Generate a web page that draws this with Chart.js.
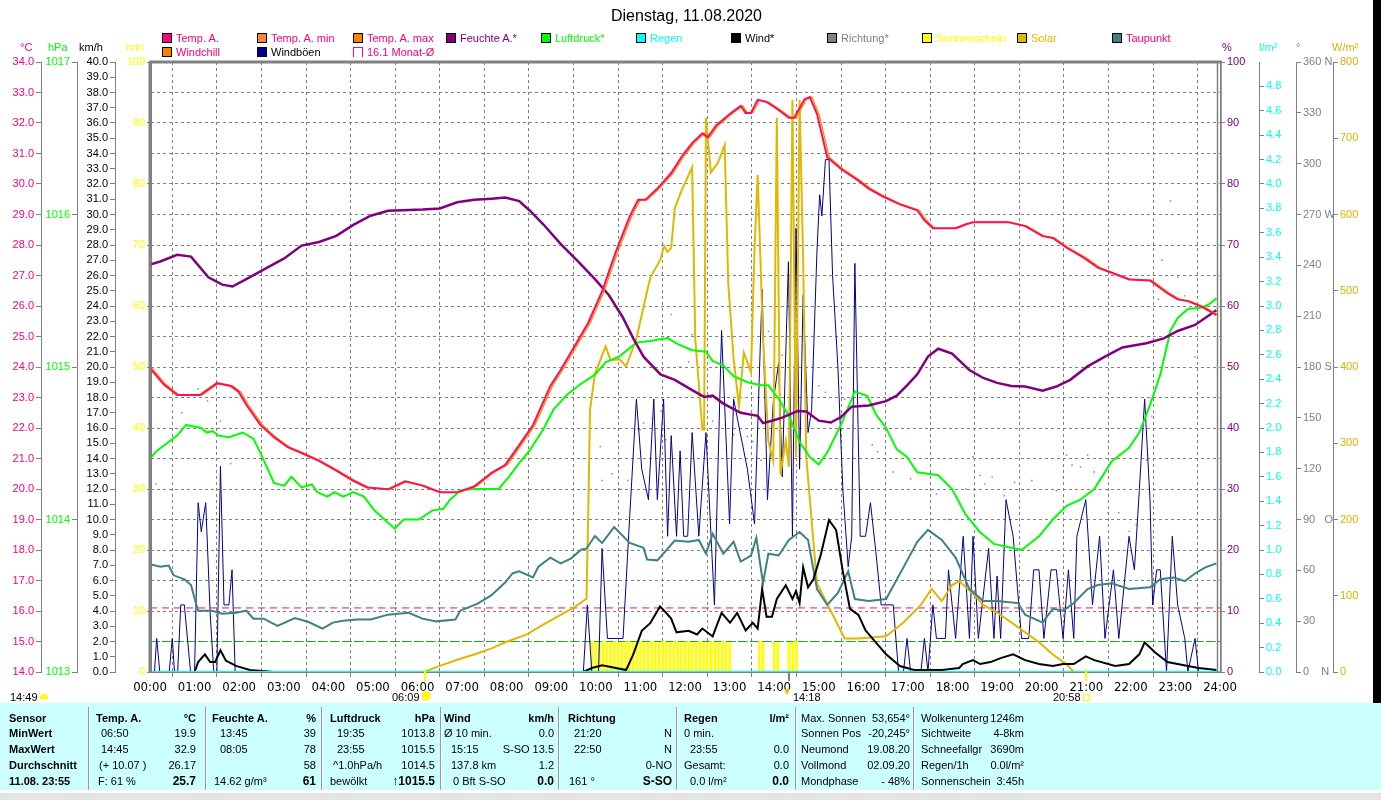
<!DOCTYPE html>
<html>
<head>
<meta charset="utf-8">
<title>Dienstag, 11.08.2020</title>
<script src="https://cdn.jsdelivr.net/npm/chart.js@4.4.1/dist/chart.umd.min.js"></script>
<style>
  html, body { margin: 0; padding: 0; background: #fff; }
  body { position: relative; width: 1381px; height: 800px; overflow: hidden; font-family: "Liberation Sans", Arial, sans-serif; font-size: 11px; }
  #chart { position: absolute; left: 0; top: 0; }
  .t { position: absolute; white-space: nowrap; line-height: 13px; }
  .sq { position: absolute; width: 8px; height: 8px; border: 1px solid #000; }
  #table { position: absolute; left: 0; top: 703px; width: 1381px; height: 87px; background: #CCFFFF; }
  .sep { position: absolute; top: 4px; width: 1px; height: 83px; background: #9a9a9a; border-right: 1px solid #fff; }
  #status { position: absolute; left: 0; top: 790px; width: 1381px; height: 10px; background: #e4e4e4; border-top: 3px solid #fff; box-sizing: border-box; }
  #edge { position: absolute; left: 1373px; top: 0; width: 8px; height: 703px; background: #000; }
  .mk { position: absolute; top: 669px; width: 2px; height: 12px; }
</style>
</head>
<body>
<canvas id="chart" width="1381" height="700"></canvas>
<div id="overlay"></div>
<div id="table"></div>
<div id="status"></div>
<div id="edge"></div>
<script>
// ---- data, time in hours ----
const hourLabels = ['00:00', '01:00', '02:00', '03:00', '04:00', '05:00', '06:00', '07:00', '08:00', '09:00', '10:00', '11:00', '12:00',
    '13:00', '14:00', '15:00', '16:00', '17:00', '18:00', '19:00', '20:00', '21:00', '22:00', '23:00', '24:00'];

const tempTimes = [0.00, 0.30, 0.61, 1.12, 1.50, 1.81, 1.99, 2.16, 2.47, 2.78, 3.09, 3.40, 3.79, 4.18, 4.56, 4.87, 5.34, 5.72, 6.11, 6.50,
    6.89, 7.27, 7.66, 7.97, 8.28, 8.59, 8.98, 9.21, 9.52, 9.83, 10.14, 10.45, 10.76, 10.95, 11.11, 11.38, 11.69, 11.95, 12.16, 12.39,
    12.51, 12.70, 13.01, 13.25, 13.36, 13.48, 13.63, 13.83, 14.10, 14.33, 14.45, 14.68, 14.80, 14.96, 15.19, 15.50, 15.89, 16.12, 16.44, 16.82,
    17.21, 17.37, 17.56, 18.07, 18.30, 18.46, 19.24, 19.63, 20.02, 20.25, 20.56, 20.95, 21.26, 21.73, 21.96, 22.43, 22.82, 23.05, 23.28, 23.60, 23.92];
const tempValues = [23.96, 23.44, 23.08, 23.08, 23.47, 23.38, 23.18, 22.76, 22.11, 21.70, 21.37, 21.18, 20.92, 20.60, 20.27, 20.05, 19.99, 20.25, 20.11, 19.89,
    19.89, 20.08, 20.53, 20.79, 21.44, 22.09, 23.38, 23.90, 24.67, 25.45, 26.48, 27.78, 28.94, 29.48, 29.48, 29.85, 30.36, 30.95, 31.34, 31.66,
    31.53, 31.92, 32.30, 32.56, 32.33, 32.33, 32.76, 32.69, 32.43, 32.17, 32.17, 32.78, 32.85, 32.30, 30.88, 30.49, 30.11, 29.85, 29.59, 29.33,
    29.14, 28.81, 28.55, 28.55, 28.68, 28.75, 28.75, 28.62, 28.29, 28.23, 27.91, 27.58, 27.26, 27.00, 26.87, 26.84, 26.42, 26.22, 26.16, 25.97, 25.70];

const humTimes = [0.00, 0.23, 0.61, 0.92, 1.31, 1.62, 1.85, 2.16, 2.63, 3.01, 3.40, 3.79, 4.18, 4.56, 4.95, 5.34, 6.11, 6.50, 6.89, 7.27,
    7.66, 7.97, 8.28, 8.51, 8.82, 9.21, 9.60, 9.98, 10.29, 10.60, 10.84, 11.07, 11.45, 11.77, 12.16, 12.43, 12.62, 12.86, 13.25, 13.63,
    13.75, 13.95, 14.18, 14.53, 14.72, 15.00, 15.27, 15.50, 15.74, 16.12, 16.51, 16.75, 16.98, 17.21, 17.45, 17.68, 17.99, 18.38, 18.69, 19.00,
    19.32, 19.63, 20.02, 20.33, 20.64, 21.03, 21.42, 21.81, 22.35, 22.74, 23.05, 23.44, 23.92];
const humValues = [66.8, 67.3, 68.4, 68.1, 64.7, 63.5, 63.2, 64.4, 66.3, 67.8, 69.9, 70.5, 71.5, 73.3, 74.8, 75.6, 75.8, 76.0, 77.0, 77.4,
    77.6, 77.8, 77.2, 75.7, 73.4, 70.2, 67.3, 64.4, 61.8, 58.2, 54.7, 51.7, 48.8, 47.9, 46.2, 45.1, 45.3, 44.0, 42.5, 42.0,
    40.8, 41.2, 41.7, 42.8, 42.7, 41.2, 40.9, 41.8, 43.5, 43.7, 44.4, 45.3, 47.0, 48.8, 51.7, 53.0, 52.2, 49.5, 48.2, 47.4,
    46.9, 46.8, 46.1, 46.8, 47.9, 50.1, 51.7, 53.2, 53.9, 54.7, 55.9, 56.9, 59.3];

const presTimes = [0.00, 0.15, 0.38, 0.61, 0.81, 1.15, 1.27, 1.40, 1.54, 1.77, 2.08, 2.32, 2.47, 2.78, 3.01, 3.17, 3.40, 3.63, 3.75, 3.98,
    4.14, 4.33, 4.56, 4.80, 5.03, 5.26, 5.49, 5.69, 6.03, 6.34, 6.58, 6.73, 6.96, 7.27, 7.82, 8.05, 8.28, 8.51, 8.82, 9.05,
    9.36, 9.67, 9.98, 10.22, 10.53, 10.91, 11.22, 11.61, 11.84, 12.16, 12.47, 12.62, 12.86, 13.09, 13.40, 13.71, 13.87, 14.10, 14.33, 14.57,
    14.80, 15.00, 15.19, 15.50, 15.81, 16.09, 16.28, 16.51, 16.75, 16.98, 17.21, 17.68, 17.99, 18.30, 18.61, 18.93, 19.24, 19.55, 19.94, 20.25,
    20.56, 20.87, 21.18, 21.57, 21.96, 22.19, 22.43, 22.66, 22.89, 23.05, 23.28, 23.60, 23.75, 23.92];
const presValues = [1014.40, 1014.45, 1014.50, 1014.55, 1014.62, 1014.60, 1014.57, 1014.58, 1014.55, 1014.54, 1014.57, 1014.53, 1014.44, 1014.24, 1014.22, 1014.28, 1014.21, 1014.23, 1014.18, 1014.15,
    1014.18, 1014.15, 1014.18, 1014.15, 1014.06, 1014.00, 1013.94, 1014.00, 1014.00, 1014.06, 1014.07, 1014.13, 1014.19, 1014.20, 1014.20, 1014.28, 1014.37, 1014.45, 1014.59, 1014.72,
    1014.82, 1014.89, 1014.95, 1015.03, 1015.07, 1015.16, 1015.17, 1015.19, 1015.15, 1015.11, 1015.10, 1015.04, 1015.01, 1014.94, 1014.90, 1014.88, 1014.88, 1014.79, 1014.68, 1014.51,
    1014.41, 1014.36, 1014.44, 1014.62, 1014.84, 1014.81, 1014.69, 1014.60, 1014.46, 1014.41, 1014.31, 1014.29, 1014.20, 1014.03, 1013.92, 1013.84, 1013.82, 1013.80, 1013.89, 1014.00,
    1014.09, 1014.13, 1014.20, 1014.38, 1014.47, 1014.57, 1014.75, 1014.95, 1015.24, 1015.32, 1015.38, 1015.39, 1015.41, 1015.45];

const dewTimes = [0.00, 0.23, 0.42, 0.53, 0.77, 0.92, 1.04, 1.08, 1.39, 1.62, 1.93, 2.16, 2.32, 2.55, 2.86, 3.25, 3.56, 3.87, 4.10, 4.33,
    4.64, 4.95, 5.34, 5.80, 6.11, 6.42, 6.85, 6.96, 7.35, 7.66, 7.97, 8.13, 8.28, 8.59, 8.71, 8.98, 9.21, 9.44, 9.67, 9.79,
    9.98, 10.14, 10.41, 10.76, 11.07, 11.15, 11.38, 11.77, 12.08, 12.31, 12.47, 12.62, 12.86, 13.09, 13.25, 13.48, 13.60, 13.75, 13.87, 14.10,
    14.33, 14.57, 14.76, 14.96, 15.19, 15.43, 15.66, 15.81, 16.12, 16.51, 16.90, 17.21, 17.45, 17.76, 18.07, 18.38, 18.69, 19.00, 19.47, 19.63,
    20.02, 20.25, 20.48, 20.72, 21.03, 21.26, 21.57, 21.96, 22.43, 22.66, 22.97, 23.21, 23.44, 23.67, 23.92];
const dewValues = [17.53, 17.45, 17.49, 17.17, 17.04, 16.85, 16.20, 16.01, 16.01, 15.91, 15.94, 16.01, 15.75, 15.75, 15.51, 15.77, 15.64, 15.42, 15.62, 15.68,
    15.72, 15.72, 15.88, 15.94, 15.75, 15.66, 15.72, 16.01, 16.24, 16.52, 16.94, 17.23, 17.30, 17.10, 17.45, 17.75, 17.56, 17.72, 18.01, 18.05,
    18.46, 18.23, 18.75, 18.23, 18.07, 17.69, 17.66, 18.31, 18.27, 18.33, 17.88, 18.53, 17.88, 18.27, 17.62, 17.82, 18.40, 16.91, 17.88, 17.82,
    18.33, 18.59, 18.33, 16.72, 16.20, 16.59, 17.30, 16.39, 16.33, 16.39, 17.43, 18.27, 18.66, 18.33, 17.75, 16.72, 16.33, 16.33, 16.26, 15.88,
    15.62, 16.07, 16.01, 16.26, 16.72, 16.85, 16.91, 16.72, 16.78, 17.04, 17.10, 16.98, 17.23, 17.43, 17.56];

const solarTimes = [6.15, 6.50, 6.89, 7.27, 7.66, 7.97, 8.44, 8.82, 9.21, 9.52, 9.79, 9.83, 9.87, 9.98, 10.22, 10.33, 10.53, 10.68, 10.91, 11.07,
    11.22, 11.45, 11.53, 11.61, 11.69, 11.77, 11.92, 12.16, 12.23, 12.39, 12.43, 12.47, 12.58, 12.74, 12.89, 12.97, 13.09, 13.21, 13.32, 13.48,
    13.56, 13.63, 13.75, 13.87, 13.98, 14.06, 14.14, 14.26, 14.33, 14.41, 14.49, 14.57, 14.65, 14.72, 14.96, 15.27, 15.58, 15.89, 16.51, 16.90,
    17.29, 17.53, 17.76, 17.99, 18.15, 18.46, 18.69, 19.00, 19.32, 19.63, 19.94, 20.25, 20.56, 20.72];
const solarValues = [0, 8, 16, 23, 31, 39, 49, 62, 75, 85, 96, 210, 344, 391, 427, 409, 410, 401, 437, 479,
    517, 541, 559, 551, 556, 608, 631, 662, 437, 318, 318, 727, 655, 668, 691, 510, 411, 349, 419, 393,
    556, 652, 437, 303, 277, 727, 259, 303, 269, 750, 282, 750, 541, 282, 116, 80, 44, 44, 47, 65,
    88, 109, 93, 114, 119, 103, 88, 78, 65, 52, 39, 23, 10, 0];

const gustTimes = [0.00, 0.10, 0.15, 0.22, 0.43, 0.50, 0.55, 0.62, 0.69, 0.77, 0.91, 1.00, 1.08, 1.15, 1.25, 1.35, 1.43, 1.50, 1.58, 1.66,
    1.77, 1.84, 1.91, 9.72, 9.81, 9.91, 10.06, 10.14, 10.26, 10.61, 10.76, 10.91, 11.03, 11.18, 11.30, 11.38, 11.52, 11.61, 11.69, 11.81,
    11.89, 11.97, 12.06, 12.16, 12.31, 12.47, 12.66, 12.82, 13.00, 13.09, 13.23, 13.40, 13.56, 13.73, 13.85, 13.98, 14.10, 14.18, 14.32, 14.41,
    14.49, 14.57, 14.65, 14.76, 14.84, 14.96, 15.02, 15.07, 15.15, 15.23, 15.31, 15.43, 15.54, 15.66, 15.74, 15.81, 15.93, 16.05, 16.16, 16.28,
    16.40, 16.67, 16.79, 16.90, 16.98, 17.06, 17.29, 17.37, 17.45, 17.56, 17.64, 17.84, 17.91, 18.07, 18.24, 18.38, 18.46, 18.58, 18.81, 18.93,
    19.00, 19.08, 19.20, 19.36, 19.55, 19.71, 19.82, 19.94, 20.05, 20.21, 20.33, 20.48, 20.60, 20.72, 20.79, 20.99, 21.14, 21.30, 21.42, 21.61,
    21.73, 21.96, 22.08, 22.19, 22.31, 22.43, 22.49, 22.58, 22.66, 22.80, 22.93, 23.05, 23.21, 23.28, 23.44, 23.52, 23.92];
const gustValues = [0, 0, 2.2, 0, 0, 2.2, 0, 0, 4.4, 4.4, 0, 0, 11.1, 9.2, 11.1, 3.8, 0, 0, 13.5, 4.4,
    4.4, 6.7, 0, 0, 4.4, 0, 0, 8.1, 2.2, 2.2, 10.2, 17.9, 13.3, 11.3, 17.9, 11.3, 17.9, 8.9, 15.5, 8.9,
    14.5, 8.9, 8.9, 15.7, 8.9, 15.7, 4.4, 22.4, 9.7, 17.9, 15.8, 13.3, 9.7, 25.1, 11.3, 17.7, 20.3, 12.8, 26.9, 8.9,
    29.1, 13.3, 24.7, 15.7, 17.2, 27.6, 31.3, 29.9, 33.6, 33.6, 26.0, 20.0, 12.0, 6.9, 8.9, 26.8, 8.9, 8.9, 11.1, 7.9,
    4.4, 4.4, 0, 0, 2.2, 0, 0, 2.2, 0, 4.4, 2.2, 2.2, 6.7, 2.2, 8.9, 2.2, 8.9, 2.2, 8.1, 2.2,
    6.3, 2.2, 11.3, 8.9, 2.2, 2.2, 6.7, 6.7, 2.2, 6.7, 6.7, 2.2, 6.7, 2.2, 8.9, 11.3, 4.4, 8.9, 2.2, 6.7,
    2.2, 8.9, 6.7, 11.9, 17.9, 11.3, 4.4, 6.7, 6.7, 0, 8.9, 4.4, 2.2, 0, 2.2, 0, 0];

const windTimes = [0.00, 1.00, 1.08, 1.23, 1.35, 1.46, 1.58, 1.70, 1.93, 2.24, 2.78, 9.72, 9.91, 10.14, 10.45, 10.68, 10.84, 11.03, 11.22, 11.44,
    11.57, 11.69, 11.81, 12.08, 12.27, 12.39, 12.62, 12.82, 13.01, 13.17, 13.36, 13.52, 13.63, 13.73, 13.83, 13.95, 14.06, 14.26, 14.41, 14.49,
    14.57, 14.65, 14.76, 14.88, 15.04, 15.23, 15.39, 15.54, 15.70, 15.89, 16.05, 16.28, 16.51, 16.82, 17.14, 17.76, 18.15, 18.23, 18.46, 18.62,
    18.85, 19.08, 19.36, 19.63, 19.94, 20.25, 20.48, 20.72, 20.99, 21.18, 21.65, 21.96, 22.19, 22.31, 22.54, 22.82, 23.05, 23.28, 23.52, 23.92];
const windValues = [0, 0, 0.65, 1.16, 0.65, 0.65, 1.42, 0.75, 0.40, 0.13, 0, 0, 0.26, 0.44, 0.26, 0.13, 1.16, 2.70, 3.20, 4.30,
    3.90, 3.50, 2.60, 2.70, 2.46, 2.85, 2.33, 3.88, 3.23, 3.88, 2.72, 3.23, 2.85, 5.43, 3.62, 3.62, 4.79, 5.69, 4.79, 5.30,
    4.53, 6.86, 5.56, 6.08, 7.63, 9.96, 9.31, 6.60, 4.14, 3.75, 2.72, 1.94, 1.16, 0.39, 0.13, 0.13, 0.26, 0.52, 0.78, 0.52,
    0.65, 0.91, 1.16, 0.78, 0.52, 0.39, 0.52, 0.52, 1.03, 0.78, 0.39, 0.52, 1.16, 1.94, 1.29, 0.65, 0.52, 0.39, 0.26, 0.13];

const dirTimes = [0.13, 0.71, 1.08, 1.29, 1.58, 1.81, 10.10, 10.14, 10.36, 10.53, 10.72, 10.99, 11.07, 11.27, 11.46, 11.57, 11.69, 11.89, 11.93, 12.08,
    12.16, 12.62, 13.09, 13.40, 13.52, 13.71, 13.87, 14.02, 14.18, 14.49, 15.00, 15.15, 15.58, 16.20, 16.32, 16.67, 17.06, 17.64, 17.91, 18.30,
    18.46, 18.61, 18.73, 18.89, 19.16, 19.39, 19.78, 20.33, 20.48, 20.56, 20.68, 20.87, 21.03, 21.18, 21.49, 21.73, 21.96, 22.12, 22.35, 22.47,
    22.62, 22.70, 22.89, 23.05, 23.21, 23.44];
const dirValues = [111, 153, 167, 160, 148, 123, 133, 113, 117, 108, 113, 143, 147, 150, 154, 137, 211, 180, 170, 183,
    199, 148, 140, 139, 136, 125, 201, 211, 187, 220, 169, 165, 161, 134, 130, 118, 114, 105, 90, 108,
    127, 116, 111, 115, 104, 112, 113, 107, 115, 128, 122, 121, 128, 118, 94, 94, 83, 87, 125, 151,
    220, 243, 278, 233, 222, 186];

const sunSlots = ['09:55', '10:00', '10:05', '10:10', '10:15', '10:20', '10:25', '10:30', '10:35', '10:40', '10:45', '10:50', '10:55',
    '11:00', '11:05', '11:10', '11:15', '11:20', '11:25', '11:30', '11:35', '11:40', '11:45', '11:50', '11:55',
    '12:00', '12:05', '12:10', '12:15', '12:20', '12:25', '12:30', '12:35', '12:40', '12:45', '12:50', '12:55', '13:00',
    '13:40', '13:45', '14:00', '14:05', '14:20', '14:25', '14:30'];
const sunMinutes = [5, 5, 5, 5, 5, 5, 5, 5, 5, 5, 5, 5, 5, 5, 5, 5, 5, 5, 5, 5, 5, 5, 5, 5, 5,
    5, 5, 5, 5, 5, 5, 5, 5, 5, 5, 5, 5, 5, 5, 5, 5, 5, 5, 5, 5];

const rainTimes = [0, 24];
const rainValues = [0, 0];
const monthAvgTemp = 16.1;   // 16.1 Monat-Ø
const windMark = 2.0;        // green dashed line, km/h

const dirLabels = { 0: '0    N', 90: '90   O', 180: '180 S', 270: '270 W', 360: '360 N' };

// ---- helpers ----
const pts = (t, v) => t.map((x, i) => ({ x: x, y: v[i] }));
const hm = s => { const p = s.split(':'); return +p[0] + p[1] / 60; };
const fixW = w => s => { s.width = w; };
const FONT = 'Liberation Sans, Arial, sans-serif';
const GRID = '#808080';

function yAxis(pos, weight, min, max, step, color, width, fmt, extra) {
    const ax = {
        type: 'linear', position: pos, weight: weight, min: min, max: max,
        afterFit: fixW(width),
        ticks: { stepSize: step, color: color, autoSkip: false, padding: pos === 'left' ? 2 : 2,
            font: { family: FONT, size: 11 }, callback: fmt },
        grid: { drawOnChartArea: false, tickLength: 5, tickColor: GRID, color: GRID },
        border: { color: GRID, width: 1 }
    };
    return Object.assign(ax, extra || {});
}

const framePlugin = {
    id: 'frame',
    beforeDatasetDraw(chart, args) {
        if (chart.data.datasets[args.index].shift) { chart.ctx.save(); chart.ctx.translate(2, 0); }
    },
    afterDatasetDraw(chart, args) {
        if (chart.data.datasets[args.index].shift) chart.ctx.restore();
    },
    afterDraw(chart) {
        const c = chart.ctx, a = chart.chartArea;
        c.save();
        c.strokeStyle = GRID;
        c.lineWidth = 3;
        c.beginPath(); c.moveTo(a.left - 1, a.top); c.lineTo(a.right + 2, a.top); c.stroke();
        c.beginPath(); c.moveTo(a.left, a.top); c.lineTo(a.left, a.bottom); c.stroke();
        c.lineWidth = 1.5;
        c.beginPath(); c.moveTo(a.right - 2.5, a.top); c.lineTo(a.right - 2.5, a.bottom); c.stroke();
        c.beginPath(); c.moveTo(a.right + 1, a.top); c.lineTo(a.right + 1, a.bottom); c.stroke();
        c.restore();
    }
};

new Chart(document.getElementById('chart'), {
    type: 'line',
    data: {
        datasets: [
            { label: 'Regen', data: pts(rainTimes, rainValues), yAxisID: 'yRain', borderColor: '#00FFFF', borderWidth: 2 },
            { label: 'Wind', data: pts(windTimes, windValues), yAxisID: 'yKmh', borderColor: '#000000', borderWidth: 2 },
            { label: 'Temp. A.', data: pts(tempTimes, tempValues), yAxisID: 'yT', borderColor: '#FF1050', borderWidth: 2 },
            { label: 'Temp. A. max', data: pts(tempTimes, tempValues), yAxisID: 'yT', borderColor: '#FF8000', borderWidth: 1.2, shift: true },
            { label: 'Feuchte A.', data: pts(humTimes, humValues), yAxisID: 'yPct', borderColor: '#800080', borderWidth: 2.5 },
            { label: 'Luftdruck', data: pts(presTimes, presValues), yAxisID: 'yHpa', borderColor: '#00FF00', borderWidth: 2 },
            { label: 'Taupunkt', data: pts(dewTimes, dewValues), yAxisID: 'yT', borderColor: '#408080', borderWidth: 2 },
            { label: 'Solar', data: pts(solarTimes, solarValues), yAxisID: 'yW', borderColor: '#E0B800', borderWidth: 2 },
            { label: 'Windböen', data: pts(gustTimes, gustValues), yAxisID: 'yKmh', borderColor: '#000090', borderWidth: 1 },
            { type: 'scatter', label: 'Richtung', data: pts(dirTimes, dirValues), yAxisID: 'yDeg', showLine: false,
              pointRadius: 1, pointStyle: 'rect', pointBackgroundColor: '#808080', pointBorderColor: '#808080', pointBorderWidth: 0 },
            { label: 'Monat-Ø', data: pts([0, 24], [monthAvgTemp, monthAvgTemp]), yAxisID: 'yT', borderColor: '#FF0080', borderWidth: 1, borderDash: [7, 5] },
            { label: 'Windmarke', data: pts([0, 24], [windMark, windMark]), yAxisID: 'yKmh', borderColor: '#00C000', borderWidth: 1, borderDash: [7, 5] },
            { type: 'bar', label: 'Sonnenschein', data: pts(sunSlots.map(hm), sunMinutes), yAxisID: 'yMin',
              backgroundColor: '#FFFF00', barThickness: 2, borderWidth: 0 }
        ]
    },
    options: {
        responsive: false,
        animation: false,
        layout: { padding: { left: 0, top: 62, right: 6, bottom: 0 } },
        elements: { point: { radius: 0 }, line: { tension: 0 } },
        plugins: { legend: { display: false }, tooltip: { enabled: false } },
        scales: {
            x: {
                type: 'linear', position: 'bottom', min: 0, max: 24, offset: false,
                afterFit: s => { s.height = 28; },
                ticks: { stepSize: 1, autoSkip: false, maxRotation: 0, color: '#000', padding: 3,
                    font: { family: 'Liberation Sans Narrow, DejaVu Sans Condensed, sans-serif', size: 13 },
                    callback: v => hourLabels[v] },
                grid: { color: GRID, tickLength: 5, tickColor: GRID },
                border: { color: GRID, dash: [3, 3] }
            },
            yMin: yAxis('left', 1, 0, 100, 10, '#FFFF00', 35, v => String(v), {
                grid: { drawOnChartArea: false, tickLength: 3, tickColor: GRID }, border: { color: GRID, width: 3 } }),
            yKmh: yAxis('left', 2, 0, 40, 1, '#000000', 38, v => v.toFixed(1)),
            yHpa: yAxis('left', 3, 1013, 1017, 1, '#00FF00', 36, v => String(v)),
            yT: yAxis('left', 4, 14, 34, 1, '#FF0080', 41, v => v.toFixed(1), {
                grid: { drawOnChartArea: true, color: GRID, tickLength: 5, tickColor: GRID },
                border: { color: GRID, width: 1, dash: [3, 3] } }),
            yPct: yAxis('right', 1, 0, 100, 10, '#800080', 39, v => String(v)),
            yRain: yAxis('right', 2, 0, 5, 0.2, '#00FFFF', 37, v => v.toFixed(1), {
                afterBuildTicks: s => { s.ticks = s.ticks.filter(t => t.value < 4.95); } }),
            yDeg: yAxis('right', 3, 0, 360, 30, '#808080', 37, v => dirLabels[v] !== undefined ? dirLabels[v] : String(v)),
            yW: yAxis('right', 4, 0, 800, 100, '#E0B000', 42, v => String(v))
        }
    },
    plugins: [framePlugin]
});

// ---- texts around the chart ----
const overlay = document.getElementById('overlay');
function put(parent, x, y, text, o) {
    o = o || {};
    const d = document.createElement('div');
    d.className = 't';
    d.textContent = text;
    d.style.top = (y - 6.5) + 'px';
    if (o.right) d.style.right = (1381 - x) + 'px'; else d.style.left = x + 'px';
    if (o.color) d.style.color = o.color;
    if (o.bold) d.style.fontWeight = 'bold';
    if (o.size) d.style.fontSize = o.size + 'px';
    parent.appendChild(d);
    return d;
}
function box(parent, x, y, w, h, css) {
    const d = document.createElement('div');
    d.style.position = 'absolute';
    d.style.left = x + 'px'; d.style.top = y + 'px';
    d.style.width = w + 'px'; d.style.height = h + 'px';
    Object.assign(d.style, css);
    parent.appendChild(d);
    return d;
}

put(overlay, 611, 15, 'Dienstag, 11.08.2020', { size: 16 });

const legendItems = [
    [162, 38, '#FF0080', '#FF0080', 'Temp. A.'],
    [257, 38, '#FF8040', '#FF0080', 'Temp. A. min'],
    [353, 38, '#FF8000', '#FF0080', 'Temp. A. max'],
    [446, 38, '#800080', '#800080', 'Feuchte A.*'],
    [541, 38, '#00FF00', '#00FF00', 'Luftdruck*'],
    [636, 38, '#00FFFF', '#00FFFF', 'Regen'],
    [731, 38, '#000000', '#000000', 'Wind*'],
    [827, 38, '#808080', '#808080', 'Richtung*'],
    [922, 38, '#FFFF00', '#FFFF00', 'Sonnenschein'],
    [1017, 38, '#E0B800', '#E0B800', 'Solar'],
    [1112, 38, '#408080', '#FF0080', 'Taupunkt'],
    [162, 52, '#FF8000', '#FF0080', 'Windchill'],
    [257, 52, '#000090', '#000000', 'Windböen']
];
legendItems.forEach(it => {
    const s = document.createElement('div');
    s.className = 'sq';
    s.style.left = it[0] + 'px'; s.style.top = (it[1] - 5) + 'px'; s.style.background = it[2];
    overlay.appendChild(s);
    put(overlay, it[0] + 14, it[1], it[4], { color: it[3] });
});
box(overlay, 353, 47, 8, 9, { borderTop: '1px solid #FF0080', borderLeft: '1px solid #FF0080', borderRight: '1px solid #FF0080' });
put(overlay, 367, 52, '16.1 Monat-Ø', { color: '#FF0080' });

// axis units
put(overlay, 20, 47, '°C', { color: '#FF0080' });
put(overlay, 48, 47, 'hPa', { color: '#00FF00' });
put(overlay, 79, 47, 'km/h', { color: '#000000' });
put(overlay, 126, 47, 'min', { color: '#FFFF00' });
put(overlay, 1222, 47, '%', { color: '#800080' });
put(overlay, 1259, 47, 'l/m²', { color: '#00FFFF' });
put(overlay, 1296, 47, '°', { color: '#808080' });
put(overlay, 1332, 47, 'W/m²', { color: '#E0B000' });

// sunrise / sunset / time markers under the axis
box(overlay, 424, 669, 2, 12, { background: '#FFFF00' });
box(overlay, 1085, 669, 2, 12, { background: '#FFFF00' });
box(overlay, 788, 672, 2, 9, { background: '#808080' });
put(overlay, 10, 697, '14:49');
box(overlay, 40, 694, 8, 5, { background: '#FFFF00', borderRadius: '4px 4px 0 0' });
put(overlay, 392, 697, '06:09');
box(overlay, 422, 692, 8, 8, { background: '#FFFF00', borderRadius: '50%', boxShadow: '0 0 2px #E0B000' });
box(overlay, 784, 689, 6, 6, { background: '#E0C000', clipPath: 'polygon(0 0,100% 0,50% 100%)' });
put(overlay, 793, 697, '14:18');
put(overlay, 1053, 697, '20:58');
box(overlay, 1083, 694, 5, 5, { border: '1px solid #FFFF00' });

// ---- bottom table ----
const table = document.getElementById('table');
[88, 205, 321, 440, 558, 676, 795, 913].forEach(x => {
    const s = document.createElement('div');
    s.className = 'sep'; s.style.left = x + 'px';
    table.appendChild(s);
});
const rowY = [15, 30.5, 46, 62, 78];
const cells = [
    // [x, row, text, right-aligned, bold]
    [9, 0, 'Sensor', 0, 1], [9, 1, 'MinWert', 0, 1], [9, 2, 'MaxWert', 0, 1], [9, 3, 'Durchschnitt', 0, 1], [9, 4, '11.08. 23:55', 0, 1],
    [96, 0, 'Temp. A.', 0, 1], [196, 0, '°C', 1, 1],
    [101, 1, '06:50'], [196, 1, '19.9', 1], [101, 2, '14:45'], [196, 2, '32.9', 1],
    [99, 3, '(+ 10.07 )'], [196, 3, '26.17', 1], [98, 4, 'F: 61 %'], [196, 4, '25.7', 1, 1],
    [212, 0, 'Feuchte A.', 0, 1], [316, 0, '%', 1, 1],
    [220, 1, '13:45'], [316, 1, '39', 1], [220, 2, '08:05'], [316, 2, '78', 1],
    [316, 3, '58', 1], [214, 4, '14.62 g/m³'], [316, 4, '61', 1, 1],
    [330, 0, 'Luftdruck', 0, 1], [435, 0, 'hPa', 1, 1],
    [337, 1, '19:35'], [435, 1, '1013.8', 1], [337, 2, '23:55'], [435, 2, '1015.5', 1],
    [333, 3, '^1.0hPa/h'], [435, 3, '1014.5', 1], [330, 4, 'bewölkt'], [435, 4, '↑1015.5', 1, 1],
    [444, 0, 'Wind', 0, 1], [554, 0, 'km/h', 1, 1],
    [444, 1, 'Ø 10 min.'], [554, 1, '0.0', 1], [451, 2, '15:15'], [554, 2, 'S-SO 13.5', 1],
    [451, 3, '137.8 km'], [554, 3, '1.2', 1], [453, 4, '0 Bft S-SO'], [554, 4, '0.0', 1, 1],
    [568, 0, 'Richtung', 0, 1],
    [574, 1, '21:20'], [672, 1, 'N', 1], [574, 2, '22:50'], [672, 2, 'N', 1],
    [672, 3, '0-NO', 1], [569, 4, '161 °'], [672, 4, 'S-SO', 1, 1],
    [684, 0, 'Regen', 0, 1], [789, 0, 'l/m²', 1, 1],
    [684, 1, '0 min.'], [690, 2, '23:55'], [789, 2, '0.0', 1],
    [684, 3, 'Gesamt:'], [789, 3, '0.0', 1], [690, 4, '0.0 l/m²'], [789, 4, '0.0', 1, 1],
    [801, 0, 'Max. Sonnen'], [910, 0, '53,654°', 1], [801, 1, 'Sonnen Pos'], [910, 1, '-20,245°', 1],
    [801, 2, 'Neumond'], [910, 2, '19.08.20', 1], [801, 3, 'Vollmond'], [910, 3, '02.09.20', 1],
    [801, 4, 'Mondphase'], [910, 4, '- 48%', 1],
    [921, 0, 'Wolkenunterg'], [1024, 0, '1246m', 1], [921, 1, 'Sichtweite'], [1024, 1, '4-8km', 1],
    [921, 2, 'Schneefallgr'], [1024, 2, '3690m', 1], [921, 3, 'Regen/1h'], [1024, 3, '0.0l/m²', 1],
    [921, 4, 'Sonnenschein'], [1024, 4, '3:45h', 1]
];
cells.forEach(c => {
    put(table, c[0], rowY[c[1]], c[2], { right: !!c[3], bold: !!c[4], size: (c[1] === 4 && c[4] && c[0] > 9) ? 12 : 11 });
});
</script>
</body>
</html>
